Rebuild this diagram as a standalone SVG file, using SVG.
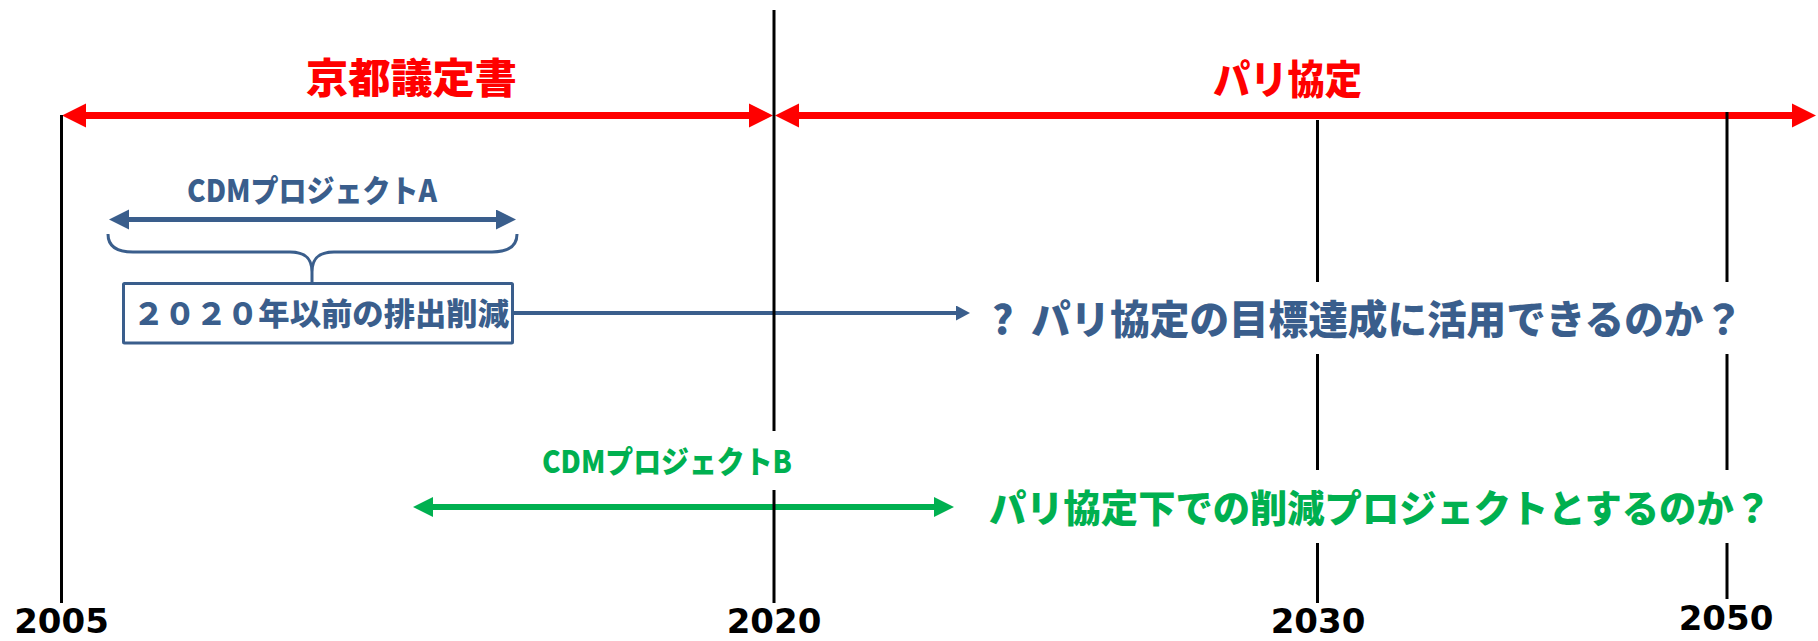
<svg xmlns="http://www.w3.org/2000/svg" width="1818" height="641" viewBox="0 0 1818 641">
<style>
.jp{font-family:"Noto Sans CJK JP","Noto Sans CJK SC",sans-serif;font-weight:900}
.yr{font-family:"DejaVu Sans",Verdana,sans-serif;font-weight:700;font-size:34px;fill:#000;text-anchor:middle}
.red{fill:#FF0000}
.blue{fill:#3A5E8C}
.green{fill:#00B050}
.vl{stroke:#000;stroke-width:3;fill:none}
</style>
<defs>
<marker id="hRed" markerUnits="userSpaceOnUse" markerWidth="26" markerHeight="26" refX="1" refY="12.5" orient="auto-start-reverse"><path d="M0,0.5 L24,12.5 L0,24.5 z" fill="#FF0000"/></marker>
<marker id="hBlue" markerUnits="userSpaceOnUse" markerWidth="22" markerHeight="22" refX="1" refY="10" orient="auto-start-reverse"><path d="M0,0 L20,10 L0,20 z" fill="#3A5E8C"/></marker>
<marker id="hBlueS" markerUnits="userSpaceOnUse" markerWidth="16" markerHeight="16" refX="1" refY="7.5" orient="auto-start-reverse"><path d="M0,0 L14,7.5 L0,15 z" fill="#3A5E8C"/></marker>
<marker id="hGreen" markerUnits="userSpaceOnUse" markerWidth="22" markerHeight="22" refX="1" refY="10" orient="auto-start-reverse"><path d="M0,0 L20,10 L0,20 z" fill="#00B050"/></marker>
</defs>
<rect width="1818" height="641" fill="#FFFFFF"/>

<g id="connectors">
<line id="kyoto-arrow" x1="85" y1="115.5" x2="750" y2="115.5" stroke="#FF0000" stroke-width="7" marker-start="url(#hRed)" marker-end="url(#hRed)"/>
<line id="paris-arrow" x1="798" y1="115.5" x2="1793" y2="115.5" stroke="#FF0000" stroke-width="7" marker-start="url(#hRed)" marker-end="url(#hRed)"/>
<line id="cdm-a-arrow" x1="128" y1="219.5" x2="497" y2="219.5" stroke="#3A5E8C" stroke-width="5" marker-start="url(#hBlue)" marker-end="url(#hBlue)"/>
<path id="brace" d="M108,234 C108,246 116,252 133,252 L290,252 C305,252 312,258 312,272 L312,284 M517,234 C517,246 509,252 492,252 L334,252 C319,252 312,258 312,272" fill="none" stroke="#3A5E8C" stroke-width="3"/>
<line id="box-to-question" x1="513" y1="313" x2="957" y2="313" stroke="#3A5E8C" stroke-width="4" marker-end="url(#hBlueS)"/>
<line id="cdm-b-arrow" x1="432" y1="507" x2="935" y2="507" stroke="#00B050" stroke-width="6" marker-start="url(#hGreen)" marker-end="url(#hGreen)"/>
</g>

<g id="timeline">
<path class="vl" d="M61.5,115 V603"/>
<path class="vl" d="M774,10 V431 M774,490 V603"/>
<path class="vl" d="M1317.5,120 V282 M1317.5,354 V470 M1317.5,543 V603"/>
<path class="vl" stroke-width="4" d="M1727,112 V282 M1727,354 V470 M1727,543 V599"/>
</g>

<g id="label-kyoto"><text class="jp red" x="306" y="93" font-size="41" textLength="211" lengthAdjust="spacingAndGlyphs">京都議定書</text></g>
<g id="label-paris"><text class="jp red" x="1213" y="94" font-size="40" textLength="149" lengthAdjust="spacingAndGlyphs">パリ協定</text></g>
<g id="label-cdm-a"><text class="jp blue" x="187" y="202" font-size="31" textLength="250" lengthAdjust="spacingAndGlyphs">CDMプロジェクトA</text></g>
<g id="node-pre2020">
<rect x="123.5" y="283.5" width="389" height="59.5" rx="1" fill="#FFFFFF" stroke="#3A5E8C" stroke-width="3"/>
<text class="jp blue" x="133" y="325" font-size="31" textLength="376" lengthAdjust="spacingAndGlyphs">２０２０年以前の排出削減</text>
</g>
<g id="node-question-paris">
<text class="jp blue" x="992" y="334" font-size="40">?</text>
<text class="jp blue" x="1031" y="334" font-size="40" textLength="712" lengthAdjust="spacingAndGlyphs">パリ協定の目標達成に活用できるのか？</text>
</g>
<g id="label-cdm-b"><text class="jp green" x="542" y="473" font-size="31" textLength="250" lengthAdjust="spacingAndGlyphs">CDMプロジェクトB</text></g>
<g id="node-question-project"><text class="jp green" x="989" y="522" font-size="38" textLength="782" lengthAdjust="spacingAndGlyphs">パリ協定下での削減プロジェクトとするのか？</text></g>

<g id="years">
<text class="yr" x="61.5" y="633">2005</text>
<text class="yr" x="774" y="633">2020</text>
<text class="yr" x="1318" y="633">2030</text>
<text class="yr" x="1726" y="630">2050</text>
</g>
</svg>
